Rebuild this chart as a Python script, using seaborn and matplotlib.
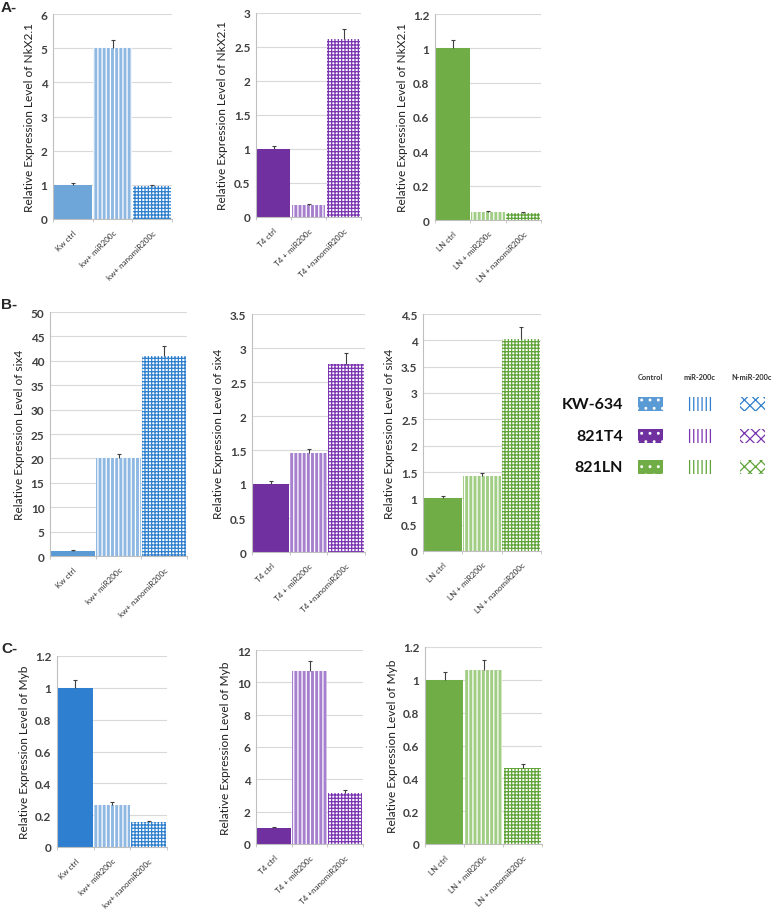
import matplotlib
matplotlib.use("Agg")
import matplotlib.pyplot as plt
import seaborn as sns
import pandas as pd
import numpy as np
from matplotlib.patches import Rectangle

sns.set_theme(style="white")
plt.rcParams['font.family'] = ['Lato', 'DejaVu Sans']
plt.rcParams['hatch.linewidth'] = 0.9

# ---------------- data ----------------
kw_labels = ["Kw ctrl", "kw+ miR200c", "kw+ nanomiR200c"]
t4_labels = ["T4 ctrl", "T4 + miR200c", "T4 +nanomiR200c"]
ln_labels = ["LN ctrl", "LN + miR200c", "LN + nanomiR200c"]

genes = ["NkX2.1", "six4", "Myb"]

nkx_kw = [1.0, 5.0, 0.97]
nkx_kw_err = [0.05, 0.25, 0.03]
nkx_t4 = [1.0, 0.18, 2.62]
nkx_t4_err = [0.05, 0.01, 0.15]
nkx_ln = [1.0, 0.045, 0.04]
nkx_ln_err = [0.05, 0.005, 0.006]

six_kw = [1.0, 20.0, 41.0]
six_kw_err = [0.2, 0.9, 2.0]
six_t4 = [1.0, 1.45, 2.77]
six_t4_err = [0.05, 0.06, 0.15]
six_ln = [1.0, 1.43, 4.03]
six_ln_err = [0.04, 0.06, 0.22]

myb_kw = [1.0, 0.265, 0.16]
myb_kw_err = [0.05, 0.015, 0.005]
myb_t4 = [1.0, 10.7, 3.15]
myb_t4_err = [0.05, 0.6, 0.2]
myb_ln = [1.0, 1.06, 0.46]
myb_ln_err = [0.05, 0.06, 0.03]

yticks_max = [[6, 3, 1.2], [50, 3.5, 4.5], [1.2, 12, 1.2]]
yticks_step = [[1, 0.5, 0.2], [5, 0.5, 0.5], [0.2, 2, 0.2]]

legend_rows = ["KW-634", "821T4", "821LN"]
legend_cols = ["Control", "miR-200c", "N-miR-200c"]

# colours: (control, stripe background, dot colour)
blue = ("#5b9bd5", "#8fb9e3", "#2f7fcc")
purple = ("#7030a0", "#a680cf", "#7a34b0")
green = ("#70ad47", "#a2cd84", "#5fa338")

W, H = 778, 912
fig = plt.figure(figsize=(W / 100, H / 100), dpi=100)


def rect(x0, x1, y0, y1):
    return [x0 / W, 1 - y1 / H, (x1 - x0) / W, (y1 - y0) / H]


boxes = [
    [rect(53, 172, 15, 220), rect(256, 361, 14, 218), rect(435, 541, 15, 221)],
    [rect(50, 187, 313, 557), rect(252, 365, 315, 553), rect(423, 541, 315, 552)],
    [rect(57, 167, 657, 848), rect(256, 363, 651, 845), rect(425, 542, 648, 845)],
]

values = [
    [(nkx_kw, nkx_kw_err), (nkx_t4, nkx_t4_err), (nkx_ln, nkx_ln_err)],
    [(six_kw, six_kw_err), (six_t4, six_t4_err), (six_ln, six_ln_err)],
    [(myb_kw, myb_kw_err), (myb_t4, myb_t4_err), (myb_ln, myb_ln_err)],
]
labels = [kw_labels, t4_labels, ln_labels]
cols = [blue, purple, green]
ctrl_override = {(0, 0): "#6ea6da", (2, 0): "#2f7fd0"}

for r in range(3):
    for c in range(3):
        ax = fig.add_axes(boxes[r][c])
        vals, errs = values[r][c]
        df = pd.DataFrame({"label": labels[c], "value": vals})
        sns.barplot(data=df, x="label", y="value", hue="label",
                    palette=[cols[c][0]] * 3, width=0.97, ax=ax,
                    legend=False, errorbar=None, saturation=1)
        ctrl_col = ctrl_override.get((r, c), cols[c][0])
        for i, p in enumerate(ax.patches):
            if i == 0:
                p.set_facecolor(ctrl_col)
                p.set_edgecolor(ctrl_col)
                p.set_linewidth(0)
            elif i == 1:
                p.set_facecolor(cols[c][1])
                p.set_edgecolor("white")
                p.set_hatch("||||")
                p.set_linewidth(0)
            else:
                p.set_facecolor("white")
                p.set_edgecolor(cols[c][2])
                p.set_hatch("+++++")
                p.set_linewidth(0)
        eb = ax.errorbar(range(3), vals, yerr=[np.zeros(3), errs], fmt="none",
                         ecolor="#404040", elinewidth=0.8, capsize=1.5,
                         capthick=0.8)
        eb[1][0].set_visible(False)
        ymax = yticks_max[r][c]
        step = yticks_step[r][c]
        ticks = np.round(np.arange(0, ymax + step / 2, step), 3)
        ax.set_ylim(0, ymax)
        ax.set_yticks(ticks)
        ax.set_yticklabels([f"{t:g}" for t in ticks], fontsize=8.5,
                           color="#404040", fontweight="bold")
        ax.set_xlim(-0.5, 2.5)
        ax.set_xticks([0, 1, 2])
        ax.set_xticklabels(labels[c], rotation=45, ha="right",
                           rotation_mode="anchor", fontsize=5.8, color="#303030")
        ax.set_xticks([-0.5, 0.5, 1.5, 2.5], minor=True)
        ax.tick_params(axis="x", which="major", length=0, pad=7)
        ax.tick_params(axis="x", which="minor", length=2.5, color="#bfbfbf",
                       direction="out", bottom=True, width=0.6)
        ax.tick_params(axis="y", length=0, pad=4)
        ax.set_xlabel("")
        ax.set_ylabel(f"Relative Expression Level of {genes[r]}", fontsize=8.6,
                      color="#202020", labelpad=4)
        ax.yaxis.grid(True, color="#d9d9d9", linewidth=0.8)
        ax.set_axisbelow(True)
        for s in ["top", "right"]:
            ax.spines[s].set_visible(False)
        for s in ["left", "bottom"]:
            ax.spines[s].set_color("#bfbfbf")
            ax.spines[s].set_linewidth(0.8)

# panel letters
for txt, y in [("A-", 8), ("B-", 305), ("C-", 649)]:
    fig.text(1 / W, 1 - y / H, txt, fontsize=11, fontweight="bold",
             va="center", ha="left", family=["Liberation Sans", "DejaVu Sans"])

# legend
lax = fig.add_axes(rect(560, 778, 360, 490))
lax.set_xlim(560, 778)
lax.set_ylim(490, 360)
lax.axis("off")
col_x = [650, 700, 752]
row_y = [405, 437, 468]
for x, t in zip(col_x, legend_cols):
    lax.text(x, 378, t, fontsize=5.3, fontweight="bold", ha="center",
             va="center", color="#303030")
for y, t, cc in zip(row_y, legend_rows, cols):
    lax.text(623, y, t, fontsize=11.5, fontweight="bold", ha="right",
             va="center", color="#111111")
    lax.add_patch(Rectangle((638, y - 7), 25, 14, facecolor=cc[0],
                            edgecolor="white", hatch="..", linewidth=0))
    lax.add_patch(Rectangle((688, y - 7), 24, 14, facecolor="white",
                            edgecolor=cc[2], hatch="||||", linewidth=0))
    lax.add_patch(Rectangle((740, y - 7), 25, 14, facecolor="white",
                            edgecolor=cc[2], hatch="xxx", linewidth=0))

fig.savefig("out.png", dpi=100)
